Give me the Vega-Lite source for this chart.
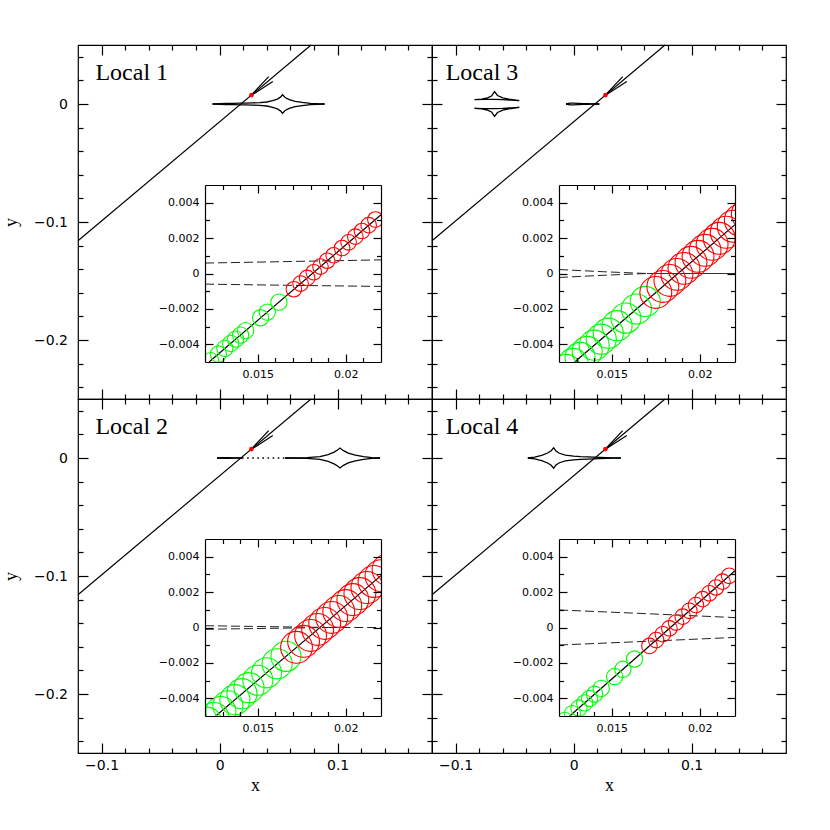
{
"$schema": "https://vega.github.io/schema/vega-lite/v6.json",
"padding": {"left": 1, "top": 42, "right": 5, "bottom": 5},
"background": "white",
"config": {
 "view": {"stroke": "black", "strokeWidth": 1.2},
 "axis": {"grid": false, "domain": false, "tickColor": "black", "tickWidth": 1.2, "labelFont": "DejaVu Sans", "labelColor": "black", "titleFont": "Liberation Serif", "titleColor": "black", "titleFontWeight": "normal", "labelFlush": false, "minExtent": 0, "format": "~g", "domainColor": "black", "domainWidth": 1.2}
},
"datasets": {
 "anchor": [{"x": 0.017, "y": 0}],
 "traj": [{"x": -0.12, "y": -0.1159}, {"x": 0.0775, "y": 0.05}],
 "dot": [{"x": 0.027, "y": 0.0076}],
 "arrow": [{"b": "u", "x": 0.026, "y": 0.0067}, {"b": "u", "x": 0.0416, "y": 0.0232}, {"b": "l", "x": 0.026, "y": 0.0067}, {"b": "l", "x": 0.0451, "y": 0.019}],
 "mask": [{"x": 0.0105, "x2": 0.012, "y": -0.0064, "y2": 0.0062}, {"x": 0.022, "x2": 0.0243, "y": -0.0064, "y2": 0.0062}, {"x": 0.0105, "x2": 0.0243, "y": 0.005, "y2": 0.0062}, {"x": 0.0105, "x2": 0.0243, "y": -0.0064, "y2": -0.005}],
 "c1": [
  {"a": "u", "x": -0.006, "y": 0}, {"a": "u", "x": 0.0, "y": 0.0003}, {"a": "u", "x": 0.006, "y": 0.00045}, {"a": "u", "x": 0.012, "y": 0.00059}, {"a": "u", "x": 0.017, "y": 0.00068}, {"a": "u", "x": 0.022, "y": 0.00077}, {"a": "u", "x": 0.028, "y": 0.00095}, {"a": "u", "x": 0.034, "y": 0.0012}, {"a": "u", "x": 0.04, "y": 0.0017}, {"a": "u", "x": 0.045, "y": 0.0028}, {"a": "u", "x": 0.049, "y": 0.0042}, {"a": "u", "x": 0.0515, "y": 0.0058}, {"a": "u", "x": 0.0533, "y": 0.0078}, {"a": "u", "x": 0.0555, "y": 0.0055}, {"a": "u", "x": 0.059, "y": 0.0037}, {"a": "u", "x": 0.064, "y": 0.0023}, {"a": "u", "x": 0.07, "y": 0.0013}, {"a": "u", "x": 0.077, "y": 0.0006}, {"a": "u", "x": 0.083, "y": 0.0002}, {"a": "u", "x": 0.089, "y": 0},
  {"a": "l", "x": -0.006, "y": 0}, {"a": "l", "x": 0.0, "y": -0.0003}, {"a": "l", "x": 0.006, "y": -0.00045}, {"a": "l", "x": 0.012, "y": -0.0006}, {"a": "l", "x": 0.017, "y": -0.00067}, {"a": "l", "x": 0.022, "y": -0.00073}, {"a": "l", "x": 0.028, "y": -0.00095}, {"a": "l", "x": 0.034, "y": -0.0012}, {"a": "l", "x": 0.04, "y": -0.0017}, {"a": "l", "x": 0.045, "y": -0.0028}, {"a": "l", "x": 0.049, "y": -0.0042}, {"a": "l", "x": 0.0515, "y": -0.0058}, {"a": "l", "x": 0.0533, "y": -0.0078}, {"a": "l", "x": 0.0555, "y": -0.0055}, {"a": "l", "x": 0.059, "y": -0.0037}, {"a": "l", "x": 0.064, "y": -0.0023}, {"a": "l", "x": 0.07, "y": -0.0013}, {"a": "l", "x": 0.077, "y": -0.0006}, {"a": "l", "x": 0.083, "y": -0.0002}, {"a": "l", "x": 0.089, "y": 0}
 ],
 "c2": [
  {"a": "u", "x": -0.0022, "y": 0}, {"a": "u", "x": 0.003, "y": 0.0004}, {"a": "u", "x": 0.008, "y": 0.0002}, {"a": "u", "x": 0.012, "y": 0.0001}, {"a": "u", "x": 0.019, "y": 0},
  {"a": "l", "x": -0.0022, "y": 0}, {"a": "l", "x": 0.003, "y": -0.0004}, {"a": "l", "x": 0.008, "y": -0.0002}, {"a": "l", "x": 0.012, "y": -0.0001}, {"a": "l", "x": 0.019, "y": 0},
  {"a": "u2", "x": 0.0556, "y": 0}, {"a": "u2", "x": 0.074, "y": 0.0003}, {"a": "u2", "x": 0.085, "y": 0.0012}, {"a": "u2", "x": 0.092, "y": 0.0028}, {"a": "u2", "x": 0.097, "y": 0.005}, {"a": "u2", "x": 0.1, "y": 0.0068}, {"a": "u2", "x": 0.102, "y": 0.0084}, {"a": "u2", "x": 0.105, "y": 0.0062}, {"a": "u2", "x": 0.109, "y": 0.0042}, {"a": "u2", "x": 0.115, "y": 0.0024}, {"a": "u2", "x": 0.122, "y": 0.0011}, {"a": "u2", "x": 0.129, "y": 0.0004}, {"a": "u2", "x": 0.136, "y": 0},
  {"a": "l2", "x": 0.0556, "y": 0}, {"a": "l2", "x": 0.074, "y": -0.0003}, {"a": "l2", "x": 0.085, "y": -0.0012}, {"a": "l2", "x": 0.092, "y": -0.0028}, {"a": "l2", "x": 0.097, "y": -0.005}, {"a": "l2", "x": 0.1, "y": -0.0068}, {"a": "l2", "x": 0.102, "y": -0.0084}, {"a": "l2", "x": 0.105, "y": -0.0062}, {"a": "l2", "x": 0.109, "y": -0.0042}, {"a": "l2", "x": 0.115, "y": -0.0024}, {"a": "l2", "x": 0.122, "y": -0.0011}, {"a": "l2", "x": 0.129, "y": -0.0004}, {"a": "l2", "x": 0.136, "y": 0}
 ],
 "c2d": [{"x": 0.019, "y": 0}, {"x": 0.022, "y": 0}, {"x": 0.0556, "y": 0}],
 "c3": [
  {"a": "u", "i": 0, "x": -0.0064, "y": 0}, {"a": "u", "i": 1, "x": -0.003, "y": 0.0007}, {"a": "u", "i": 2, "x": 0.0, "y": 0.0008}, {"a": "u", "i": 3, "x": 0.004, "y": 0.0006}, {"a": "u", "i": 4, "x": 0.008, "y": 0.0004}, {"a": "u", "i": 5, "x": 0.012, "y": 0.000225}, {"a": "u", "i": 6, "x": 0.0145, "y": 0.0001}, {"a": "u", "i": 7, "x": 0.017, "y": 0}, {"a": "u", "i": 8, "x": 0.0218, "y": 0},
  {"a": "l", "i": 0, "x": -0.0064, "y": 0}, {"a": "l", "i": 1, "x": -0.003, "y": -0.0007}, {"a": "l", "i": 2, "x": 0.0, "y": -0.0008}, {"a": "l", "i": 3, "x": 0.004, "y": -0.0006}, {"a": "l", "i": 4, "x": 0.008, "y": -0.0004}, {"a": "l", "i": 5, "x": 0.012, "y": -0.000225}, {"a": "l", "i": 6, "x": 0.0145, "y": -0.0001}, {"a": "l", "i": 7, "x": 0.017, "y": 0}, {"a": "l", "i": 8, "x": 0.0218, "y": 0},
  {"a": "pu", "i": 0, "x": -0.084, "y": 0.0037}, {"a": "pu", "i": 1, "x": -0.078, "y": 0.0042}, {"a": "pu", "i": 2, "x": -0.073, "y": 0.0052}, {"a": "pu", "i": 3, "x": -0.0695, "y": 0.0068}, {"a": "pu", "i": 4, "x": -0.067, "y": 0.0105}, {"a": "pu", "i": 5, "x": -0.0645, "y": 0.0072}, {"a": "pu", "i": 6, "x": -0.06, "y": 0.0052}, {"a": "pu", "i": 7, "x": -0.053, "y": 0.0038}, {"a": "pu", "i": 8, "x": -0.046, "y": 0.0028}, {"a": "pu", "i": 9, "x": -0.053, "y": 0.0032}, {"a": "pu", "i": 10, "x": -0.06, "y": 0.0037}, {"a": "pu", "i": 11, "x": -0.067, "y": 0.004}, {"a": "pu", "i": 12, "x": -0.075, "y": 0.004}, {"a": "pu", "i": 13, "x": -0.084, "y": 0.0037},
  {"a": "pl", "i": 0, "x": -0.084, "y": -0.0037}, {"a": "pl", "i": 1, "x": -0.078, "y": -0.0042}, {"a": "pl", "i": 2, "x": -0.073, "y": -0.0052}, {"a": "pl", "i": 3, "x": -0.0695, "y": -0.0068}, {"a": "pl", "i": 4, "x": -0.067, "y": -0.0105}, {"a": "pl", "i": 5, "x": -0.0645, "y": -0.0072}, {"a": "pl", "i": 6, "x": -0.06, "y": -0.0052}, {"a": "pl", "i": 7, "x": -0.053, "y": -0.0038}, {"a": "pl", "i": 8, "x": -0.046, "y": -0.0028}, {"a": "pl", "i": 9, "x": -0.053, "y": -0.0032}, {"a": "pl", "i": 10, "x": -0.06, "y": -0.0037}, {"a": "pl", "i": 11, "x": -0.067, "y": -0.004}, {"a": "pl", "i": 12, "x": -0.075, "y": -0.004}, {"a": "pl", "i": 13, "x": -0.084, "y": -0.0037}
 ],
 "c3s": [{"x": 0.017, "y": 0}, {"x": 0.0222, "y": 0}],
 "c4": [
  {"a": "u", "x": -0.0388, "y": 0}, {"a": "u", "x": -0.033, "y": 0.0008}, {"a": "u", "x": -0.027, "y": 0.0022}, {"a": "u", "x": -0.022, "y": 0.0042}, {"a": "u", "x": -0.019, "y": 0.0062}, {"a": "u", "x": -0.0169, "y": 0.0087}, {"a": "u", "x": -0.015, "y": 0.006}, {"a": "u", "x": -0.012, "y": 0.004}, {"a": "u", "x": -0.007, "y": 0.0025}, {"a": "u", "x": 0.0, "y": 0.0016}, {"a": "u", "x": 0.006, "y": 0.0012}, {"a": "u", "x": 0.012, "y": 0.00099}, {"a": "u", "x": 0.017, "y": 0.00078}, {"a": "u", "x": 0.022, "y": 0.00056}, {"a": "u", "x": 0.028, "y": 0.0003}, {"a": "u", "x": 0.034, "y": 0.00012}, {"a": "u", "x": 0.04, "y": 0},
  {"a": "l", "x": -0.0388, "y": 0}, {"a": "l", "x": -0.033, "y": -0.0008}, {"a": "l", "x": -0.027, "y": -0.0022}, {"a": "l", "x": -0.022, "y": -0.0042}, {"a": "l", "x": -0.019, "y": -0.0062}, {"a": "l", "x": -0.0169, "y": -0.0087}, {"a": "l", "x": -0.015, "y": -0.006}, {"a": "l", "x": -0.012, "y": -0.004}, {"a": "l", "x": -0.007, "y": -0.0025}, {"a": "l", "x": 0.0, "y": -0.0016}, {"a": "l", "x": 0.006, "y": -0.0012}, {"a": "l", "x": 0.012, "y": -0.00099}, {"a": "l", "x": 0.017, "y": -0.00078}, {"a": "l", "x": 0.022, "y": -0.00056}, {"a": "l", "x": 0.028, "y": -0.0003}, {"a": "l", "x": 0.034, "y": -0.00012}, {"a": "l", "x": 0.04, "y": 0}
 ],
 "t1": [{"x": 0.01223, "y": -0.005}, {"x": 0.022, "y": 0.00332}],
 "t2": [{"x": 0.01261, "y": -0.005}, {"x": 0.022, "y": 0.00293}],
 "t3": [{"x": 0.01289, "y": -0.005}, {"x": 0.022, "y": 0.00276}],
 "t4": [{"x": 0.01261, "y": -0.005}, {"x": 0.022, "y": 0.00321}],
 "p1": [
  {"c": "g", "r": 0.00046, "x": 0.01232, "y": -0.00492}, {"c": "g", "r": 0.00046, "x": 0.01276, "y": -0.00455}, {"c": "g", "r": 0.00046, "x": 0.01313, "y": -0.00423}, {"c": "g", "r": 0.00046, "x": 0.01346, "y": -0.00395}, {"c": "g", "r": 0.00046, "x": 0.01374, "y": -0.00371}, {"c": "g", "r": 0.00046, "x": 0.01402, "y": -0.00348}, {"c": "g", "r": 0.00046, "x": 0.01431, "y": -0.00323}, {"c": "g", "r": 0.00046, "x": 0.01516, "y": -0.0025}, {"c": "g", "r": 0.00046, "x": 0.01554, "y": -0.00218}, {"c": "g", "r": 0.00046, "x": 0.0162, "y": -0.00162},
  {"c": "r", "r": 0.00044, "x": 0.01705, "y": -0.00089}, {"c": "r", "r": 0.00044, "x": 0.01743, "y": -0.00057}, {"c": "r", "r": 0.00044, "x": 0.0178, "y": -0.00025}, {"c": "r", "r": 0.00044, "x": 0.01818, "y": 0.00007}, {"c": "r", "r": 0.00044, "x": 0.01856, "y": 0.00039}, {"c": "r", "r": 0.00044, "x": 0.01894, "y": 0.00072}, {"c": "r", "r": 0.00044, "x": 0.01931, "y": 0.00103}, {"c": "r", "r": 0.00044, "x": 0.01979, "y": 0.00144}, {"c": "r", "r": 0.00044, "x": 0.02016, "y": 0.00176}, {"c": "r", "r": 0.00044, "x": 0.02054, "y": 0.00208}, {"c": "r", "r": 0.00044, "x": 0.02092, "y": 0.0024}, {"c": "r", "r": 0.00044, "x": 0.0213, "y": 0.00273}, {"c": "r", "r": 0.00044, "x": 0.02168, "y": 0.00305}
 ],
 "p2": [
  {"c": "g", "r": 0.00085, "x": 0.0121, "y": -0.00535}, {"c": "g", "r": 0.00085, "x": 0.0125, "y": -0.00509}, {"c": "g", "r": 0.00085, "x": 0.0129, "y": -0.00475}, {"c": "g", "r": 0.00085, "x": 0.0133, "y": -0.00442}, {"c": "g", "r": 0.00085, "x": 0.0137, "y": -0.00408}, {"c": "g", "r": 0.00085, "x": 0.0141, "y": -0.00374}, {"c": "g", "r": 0.00085, "x": 0.0145, "y": -0.0034}, {"c": "g", "r": 0.00085, "x": 0.015, "y": -0.00298}, {"c": "g", "r": 0.00085, "x": 0.0155, "y": -0.00256}, {"c": "g", "r": 0.00085, "x": 0.0161, "y": -0.00205}, {"c": "g", "r": 0.00085, "x": 0.0166, "y": -0.00163},
  {"c": "r", "r": 0.0009, "x": 0.0172, "y": -0.00112}, {"c": "r", "r": 0.0009, "x": 0.0176, "y": -0.00078}, {"c": "r", "r": 0.0009, "x": 0.018, "y": -0.00045}, {"c": "r", "r": 0.0009, "x": 0.0184, "y": -0.00011}, {"c": "r", "r": 0.0009, "x": 0.0188, "y": 0.00023}, {"c": "r", "r": 0.0009, "x": 0.0192, "y": 0.00057}, {"c": "r", "r": 0.0009, "x": 0.0196, "y": 0.00091}, {"c": "r", "r": 0.0009, "x": 0.02, "y": 0.00124}, {"c": "r", "r": 0.0009, "x": 0.0204, "y": 0.00158}, {"c": "r", "r": 0.0009, "x": 0.0208, "y": 0.00192}, {"c": "r", "r": 0.0009, "x": 0.0212, "y": 0.00226}, {"c": "r", "r": 0.0009, "x": 0.0216, "y": 0.0026}, {"c": "r", "r": 0.0009, "x": 0.022, "y": 0.00293}, {"c": "r", "r": 0.0009, "x": 0.0224, "y": 0.00327}
 ],
 "p3": [
  {"c": "g", "r": 0.00085, "x": 0.0124, "y": -0.00542}, {"c": "g", "r": 0.00085, "x": 0.0128, "y": -0.00508}, {"c": "g", "r": 0.00085, "x": 0.0132, "y": -0.00474}, {"c": "g", "r": 0.00085, "x": 0.0136, "y": -0.0044}, {"c": "g", "r": 0.00085, "x": 0.014, "y": -0.00405}, {"c": "g", "r": 0.00085, "x": 0.0144, "y": -0.00371}, {"c": "g", "r": 0.00085, "x": 0.0148, "y": -0.00337}, {"c": "g", "r": 0.00085, "x": 0.0153, "y": -0.00295}, {"c": "g", "r": 0.00085, "x": 0.0158, "y": -0.00252}, {"c": "g", "r": 0.00085, "x": 0.0164, "y": -0.00201}, {"c": "g", "r": 0.00085, "x": 0.0169, "y": -0.00158},
  {"c": "r", "r": 0.0009, "x": 0.0175, "y": -0.00107}, {"c": "r", "r": 0.0009, "x": 0.0179, "y": -0.00073}, {"c": "r", "r": 0.0009, "x": 0.0183, "y": -0.00039}, {"c": "r", "r": 0.0009, "x": 0.0187, "y": -0.00005}, {"c": "r", "r": 0.0009, "x": 0.0191, "y": 0.00029}, {"c": "r", "r": 0.0009, "x": 0.0195, "y": 0.00063}, {"c": "r", "r": 0.0009, "x": 0.0199, "y": 0.00097}, {"c": "r", "r": 0.0009, "x": 0.0203, "y": 0.00131}, {"c": "r", "r": 0.0009, "x": 0.0207, "y": 0.00165}, {"c": "r", "r": 0.0009, "x": 0.0211, "y": 0.00199}, {"c": "r", "r": 0.0009, "x": 0.0215, "y": 0.00233}, {"c": "r", "r": 0.0009, "x": 0.0219, "y": 0.00267}, {"c": "r", "r": 0.0009, "x": 0.0223, "y": 0.00301}, {"c": "r", "r": 0.0009, "x": 0.0227, "y": 0.00336}
 ],
 "p4": [
  {"c": "g", "r": 0.00046, "x": 0.01232, "y": -0.00525}, {"c": "g", "r": 0.00046, "x": 0.01276, "y": -0.00487}, {"c": "g", "r": 0.00046, "x": 0.01313, "y": -0.00455}, {"c": "g", "r": 0.00046, "x": 0.01346, "y": -0.00426}, {"c": "g", "r": 0.00046, "x": 0.01374, "y": -0.00401}, {"c": "g", "r": 0.00046, "x": 0.01402, "y": -0.00377}, {"c": "g", "r": 0.00046, "x": 0.0144, "y": -0.00344}, {"c": "g", "r": 0.00046, "x": 0.01516, "y": -0.00277}, {"c": "g", "r": 0.00046, "x": 0.01563, "y": -0.00236}, {"c": "g", "r": 0.00046, "x": 0.01629, "y": -0.00178},
  {"c": "r", "r": 0.00044, "x": 0.01714, "y": -0.00104}, {"c": "r", "r": 0.00044, "x": 0.01752, "y": -0.00071}, {"c": "r", "r": 0.00044, "x": 0.0179, "y": -0.00038}, {"c": "r", "r": 0.00044, "x": 0.01827, "y": -0.00005}, {"c": "r", "r": 0.00044, "x": 0.01865, "y": 0.00028}, {"c": "r", "r": 0.00044, "x": 0.01903, "y": 0.00061}, {"c": "r", "r": 0.00044, "x": 0.01941, "y": 0.00094}, {"c": "r", "r": 0.00044, "x": 0.01978, "y": 0.00127}, {"c": "r", "r": 0.00044, "x": 0.02016, "y": 0.0016}, {"c": "r", "r": 0.00044, "x": 0.02054, "y": 0.00193}, {"c": "r", "r": 0.00044, "x": 0.02092, "y": 0.00226}, {"c": "r", "r": 0.00044, "x": 0.02129, "y": 0.00259}, {"c": "r", "r": 0.00044, "x": 0.02167, "y": 0.00292}
 ]
},
"columns": 2,
"spacing": 0,
"bounds": "flush",
"concat": [
 {"width": 354, "height": 354,
  "resolve": {"scale": {"x": "independent", "y": "independent"}, "axis": {"x": "independent", "y": "independent"}},
  "layer": [
   {"data": {"name": "traj"}, "mark": {"type": "line", "color": "black", "strokeWidth": 1.2}, "encoding": {"x": {"field": "x", "type": "quantitative", "scale": {"domain": [-0.12, 0.18], "nice": false, "zero": false}, "axis": null}, "y": {"field": "y", "type": "quantitative", "scale": {"domain": [-0.25, 0.05], "nice": false, "zero": false}, "axis": null}}},
   {"data": {"name": "c1"}, "mark": {"type": "line", "color": "black", "strokeWidth": 1.3}, "encoding": {"x": {"field": "x", "type": "quantitative", "scale": {"domain": [-0.12, 0.18], "nice": false, "zero": false}, "axis": null}, "y": {"field": "y", "type": "quantitative", "scale": {"domain": [-0.25, 0.05], "nice": false, "zero": false}, "axis": null}, "detail": {"field": "a"}}},
   {"data": {"name": "arrow"}, "mark": {"type": "line", "color": "black", "strokeWidth": 1.2}, "encoding": {"x": {"field": "x", "type": "quantitative", "scale": {"domain": [-0.12, 0.18], "nice": false, "zero": false}, "axis": null}, "y": {"field": "y", "type": "quantitative", "scale": {"domain": [-0.25, 0.05], "nice": false, "zero": false}, "axis": null}, "detail": {"field": "b"}}},
   {"data": {"name": "dot"}, "mark": {"type": "circle", "color": "#ff0000", "size": 22, "opacity": 1}, "encoding": {"x": {"field": "x", "type": "quantitative", "scale": {"domain": [-0.12, 0.18], "nice": false, "zero": false}, "axis": null}, "y": {"field": "y", "type": "quantitative", "scale": {"domain": [-0.25, 0.05], "nice": false, "zero": false}, "axis": null}}},
   {"data": {"values": [{"x": -0.1052, "y": 0.0201, "t": "Local 1"}]}, "mark": {"type": "text", "align": "left", "baseline": "alphabetic", "font": "Liberation Serif", "fontSize": 24, "color": "black"}, "encoding": {"x": {"field": "x", "type": "quantitative", "scale": {"domain": [-0.12, 0.18], "nice": false, "zero": false}, "axis": null}, "y": {"field": "y", "type": "quantitative", "scale": {"domain": [-0.25, 0.05], "nice": false, "zero": false}, "axis": null}, "text": {"field": "t"}}},
   {"data": {"name": "anchor"}, "mark": {"type": "point", "opacity": 0}, "encoding": {"x": {"field": "x", "type": "quantitative", "scale": {"domain": [-0.12, 0.18], "nice": false, "zero": false}, "axis": {"orient": "bottom", "values": [-0.1, 0, 0.1], "tickSize": -10, "labels": false, "title": null, "maxExtent": 0}}, "y": {"field": "y", "type": "quantitative", "scale": {"domain": [-0.25, 0.05], "nice": false, "zero": false}, "axis": {"orient": "left", "values": [-0.2, -0.1, 0], "tickSize": -10, "labels": true, "labelFontSize": 14, "labelPadding": 20.5, "title": "y", "titleFontSize": 18, "titlePadding": 13}}}},
   {"data": {"name": "anchor"}, "mark": {"type": "point", "opacity": 0}, "encoding": {"x": {"field": "x", "type": "quantitative", "scale": {"domain": [-0.12, 0.18], "nice": false, "zero": false}, "axis": {"orient": "bottom", "values": [-0.08, -0.06, -0.04, -0.02, 0.02, 0.04, 0.06, 0.08, 0.12, 0.14, 0.16], "tickSize": -5, "labels": false, "title": null, "maxExtent": 0}}, "y": {"field": "y", "type": "quantitative", "scale": {"domain": [-0.25, 0.05], "nice": false, "zero": false}, "axis": {"orient": "left", "values": [-0.24, -0.22, -0.18, -0.16, -0.14, -0.12, -0.08, -0.06, -0.04, -0.02, 0.02, 0.04], "tickSize": -5, "labels": false, "title": null, "maxExtent": 0}}}},
   {"data": {"name": "anchor"}, "mark": {"type": "point", "opacity": 0}, "encoding": {"x": {"field": "x", "type": "quantitative", "scale": {"domain": [-0.12, 0.18], "nice": false, "zero": false}, "axis": {"orient": "top", "values": [-0.1, 0, 0.1], "tickSize": -10, "labels": false, "title": null, "maxExtent": 0}}, "y": {"field": "y", "type": "quantitative", "scale": {"domain": [-0.25, 0.05], "nice": false, "zero": false}, "axis": {"orient": "right", "values": [-0.2, -0.1, 0], "tickSize": -10, "labels": false, "title": null, "maxExtent": 0}}}},
   {"data": {"name": "anchor"}, "mark": {"type": "point", "opacity": 0}, "encoding": {"x": {"field": "x", "type": "quantitative", "scale": {"domain": [-0.12, 0.18], "nice": false, "zero": false}, "axis": {"orient": "top", "values": [-0.08, -0.06, -0.04, -0.02, 0.02, 0.04, 0.06, 0.08, 0.12, 0.14, 0.16], "tickSize": -5, "labels": false, "title": null, "maxExtent": 0}}, "y": {"field": "y", "type": "quantitative", "scale": {"domain": [-0.25, 0.05], "nice": false, "zero": false}, "axis": {"orient": "right", "values": [-0.24, -0.22, -0.18, -0.16, -0.14, -0.12, -0.08, -0.06, -0.04, -0.02, 0.02, 0.04], "tickSize": -5, "labels": false, "title": null, "maxExtent": 0}}}},
   {"data": {"name": "c1"}, "transform": [{"filter": "datum.x >= 0.0119 && datum.x <= 0.0221"}], "mark": {"type": "line", "color": "#222222", "strokeWidth": 1, "strokeDash": [9, 4]}, "encoding": {"x": {"field": "x", "type": "quantitative", "scale": {"domain": [0.012, 0.022], "range": [127, 303], "nice": false, "zero": false}, "axis": null}, "y": {"field": "y", "type": "quantitative", "scale": {"domain": [-0.005, 0.005], "range": [317, 140], "nice": false, "zero": false}, "axis": null}, "detail": {"field": "a"}}},
   {"data": {"name": "t1"}, "mark": {"type": "line", "color": "black", "strokeWidth": 1.2}, "encoding": {"x": {"field": "x", "type": "quantitative", "scale": {"domain": [0.012, 0.022], "range": [127, 303], "nice": false, "zero": false}, "axis": null}, "y": {"field": "y", "type": "quantitative", "scale": {"domain": [-0.005, 0.005], "range": [317, 140], "nice": false, "zero": false}, "axis": null}}},
   {"data": {"name": "p1"}, "mark": {"type": "point", "shape": "circle", "filled": false, "strokeWidth": 1.1, "opacity": 1}, "encoding": {"x": {"field": "x", "type": "quantitative", "scale": {"domain": [0.012, 0.022], "range": [127, 303], "nice": false, "zero": false}, "axis": null}, "y": {"field": "y", "type": "quantitative", "scale": {"domain": [-0.005, 0.005], "range": [317, 140], "nice": false, "zero": false}, "axis": null}, "color": {"field": "c", "type": "nominal", "scale": {"domain": ["g", "r"], "range": ["#00ff00", "#ff0000"]}, "legend": null}, "size": {"field": "r", "type": "quantitative", "scale": {"type": "pow", "exponent": 2, "domain": [0, 0.001], "range": [0, 1253]}, "legend": null}}},
   {"data": {"name": "mask"}, "mark": {"type": "rect", "color": "white"}, "encoding": {"x": {"field": "x", "type": "quantitative", "scale": {"domain": [0.012, 0.022], "range": [127, 303], "nice": false, "zero": false}, "axis": null}, "x2": {"field": "x2"}, "y": {"field": "y", "type": "quantitative", "scale": {"domain": [-0.005, 0.005], "range": [317, 140], "nice": false, "zero": false}, "axis": null}, "y2": {"field": "y2"}}},
   {"data": {"name": "anchor"}, "mark": {"type": "point", "opacity": 0}, "encoding": {"x": {"field": "x", "type": "quantitative", "scale": {"domain": [0.012, 0.022], "range": [127, 303], "nice": false, "zero": false}, "axis": {"orient": "bottom", "offset": -37, "values": [0.015, 0.02], "tickSize": -8, "labels": true, "labelFontSize": 11, "labelPadding": 14, "domain": true, "title": null, "zindex": 1}}, "y": {"field": "y", "type": "quantitative", "scale": {"domain": [-0.005, 0.005], "range": [317, 140], "nice": false, "zero": false}, "axis": {"orient": "left", "offset": -127, "values": [-0.004, -0.002, 0, 0.002, 0.004], "tickSize": -8, "labels": true, "labelFontSize": 11, "labelPadding": 14, "domain": true, "title": null, "zindex": 1}}}},
   {"data": {"name": "anchor"}, "mark": {"type": "point", "opacity": 0}, "encoding": {"x": {"field": "x", "type": "quantitative", "scale": {"domain": [0.012, 0.022], "range": [127, 303], "nice": false, "zero": false}, "axis": {"orient": "bottom", "offset": -37, "values": [0.013, 0.014, 0.016, 0.017, 0.018, 0.019, 0.021], "tickSize": -4.5, "labels": false, "title": null, "zindex": 1, "maxExtent": 0}}, "y": {"field": "y", "type": "quantitative", "scale": {"domain": [-0.005, 0.005], "range": [317, 140], "nice": false, "zero": false}, "axis": {"orient": "left", "offset": -127, "values": [-0.003, -0.001, 0.001, 0.003], "tickSize": -4.5, "labels": false, "title": null, "zindex": 1, "maxExtent": 0}}}},
   {"data": {"name": "anchor"}, "mark": {"type": "point", "opacity": 0}, "encoding": {"x": {"field": "x", "type": "quantitative", "scale": {"domain": [0.012, 0.022], "range": [127, 303], "nice": false, "zero": false}, "axis": {"orient": "top", "offset": -140, "values": [0.015, 0.02], "tickSize": -8, "labels": false, "domain": true, "title": null, "zindex": 1, "maxExtent": 0}}, "y": {"field": "y", "type": "quantitative", "scale": {"domain": [-0.005, 0.005], "range": [317, 140], "nice": false, "zero": false}, "axis": {"orient": "right", "offset": -51, "values": [-0.004, -0.002, 0, 0.002, 0.004], "tickSize": -8, "labels": false, "domain": true, "title": null, "zindex": 1, "maxExtent": 0}}}},
   {"data": {"name": "anchor"}, "mark": {"type": "point", "opacity": 0}, "encoding": {"x": {"field": "x", "type": "quantitative", "scale": {"domain": [0.012, 0.022], "range": [127, 303], "nice": false, "zero": false}, "axis": {"orient": "top", "offset": -140, "values": [0.013, 0.014, 0.016, 0.017, 0.018, 0.019, 0.021], "tickSize": -4.5, "labels": false, "title": null, "zindex": 1, "maxExtent": 0}}, "y": {"field": "y", "type": "quantitative", "scale": {"domain": [-0.005, 0.005], "range": [317, 140], "nice": false, "zero": false}, "axis": {"orient": "right", "offset": -51, "values": [-0.003, -0.001, 0.001, 0.003], "tickSize": -4.5, "labels": false, "title": null, "zindex": 1, "maxExtent": 0}}}}
  ]},
 {"width": 354, "height": 354,
  "resolve": {"scale": {"x": "independent", "y": "independent"}, "axis": {"x": "independent", "y": "independent"}},
  "layer": [
   {"data": {"name": "traj"}, "mark": {"type": "line", "color": "black", "strokeWidth": 1.2}, "encoding": {"x": {"field": "x", "type": "quantitative", "scale": {"domain": [-0.12, 0.18], "nice": false, "zero": false}, "axis": null}, "y": {"field": "y", "type": "quantitative", "scale": {"domain": [-0.25, 0.05], "nice": false, "zero": false}, "axis": null}}},
   {"data": {"name": "c3"}, "mark": {"type": "line", "color": "black", "strokeWidth": 1.3}, "encoding": {"x": {"field": "x", "type": "quantitative", "scale": {"domain": [-0.12, 0.18], "nice": false, "zero": false}, "axis": null}, "y": {"field": "y", "type": "quantitative", "scale": {"domain": [-0.25, 0.05], "nice": false, "zero": false}, "axis": null}, "detail": {"field": "a"}, "order": {"field": "i", "type": "quantitative"}}},
   {"data": {"name": "arrow"}, "mark": {"type": "line", "color": "black", "strokeWidth": 1.2}, "encoding": {"x": {"field": "x", "type": "quantitative", "scale": {"domain": [-0.12, 0.18], "nice": false, "zero": false}, "axis": null}, "y": {"field": "y", "type": "quantitative", "scale": {"domain": [-0.25, 0.05], "nice": false, "zero": false}, "axis": null}, "detail": {"field": "b"}}},
   {"data": {"name": "dot"}, "mark": {"type": "circle", "color": "#ff0000", "size": 22, "opacity": 1}, "encoding": {"x": {"field": "x", "type": "quantitative", "scale": {"domain": [-0.12, 0.18], "nice": false, "zero": false}, "axis": null}, "y": {"field": "y", "type": "quantitative", "scale": {"domain": [-0.25, 0.05], "nice": false, "zero": false}, "axis": null}}},
   {"data": {"values": [{"x": -0.1084, "y": 0.0201, "t": "Local 3"}]}, "mark": {"type": "text", "align": "left", "baseline": "alphabetic", "font": "Liberation Serif", "fontSize": 24, "color": "black"}, "encoding": {"x": {"field": "x", "type": "quantitative", "scale": {"domain": [-0.12, 0.18], "nice": false, "zero": false}, "axis": null}, "y": {"field": "y", "type": "quantitative", "scale": {"domain": [-0.25, 0.05], "nice": false, "zero": false}, "axis": null}, "text": {"field": "t"}}},
   {"data": {"name": "anchor"}, "mark": {"type": "point", "opacity": 0}, "encoding": {"x": {"field": "x", "type": "quantitative", "scale": {"domain": [-0.12, 0.18], "nice": false, "zero": false}, "axis": {"orient": "bottom", "values": [-0.1, 0, 0.1], "tickSize": -10, "labels": false, "title": null, "maxExtent": 0}}, "y": {"field": "y", "type": "quantitative", "scale": {"domain": [-0.25, 0.05], "nice": false, "zero": false}, "axis": {"orient": "left", "values": [-0.2, -0.1, 0], "tickSize": -10, "labels": false, "title": null, "maxExtent": 0}}}},
   {"data": {"name": "anchor"}, "mark": {"type": "point", "opacity": 0}, "encoding": {"x": {"field": "x", "type": "quantitative", "scale": {"domain": [-0.12, 0.18], "nice": false, "zero": false}, "axis": {"orient": "bottom", "values": [-0.08, -0.06, -0.04, -0.02, 0.02, 0.04, 0.06, 0.08, 0.12, 0.14, 0.16], "tickSize": -5, "labels": false, "title": null, "maxExtent": 0}}, "y": {"field": "y", "type": "quantitative", "scale": {"domain": [-0.25, 0.05], "nice": false, "zero": false}, "axis": {"orient": "left", "values": [-0.24, -0.22, -0.18, -0.16, -0.14, -0.12, -0.08, -0.06, -0.04, -0.02, 0.02, 0.04], "tickSize": -5, "labels": false, "title": null, "maxExtent": 0}}}},
   {"data": {"name": "anchor"}, "mark": {"type": "point", "opacity": 0}, "encoding": {"x": {"field": "x", "type": "quantitative", "scale": {"domain": [-0.12, 0.18], "nice": false, "zero": false}, "axis": {"orient": "top", "values": [-0.1, 0, 0.1], "tickSize": -10, "labels": false, "title": null, "maxExtent": 0}}, "y": {"field": "y", "type": "quantitative", "scale": {"domain": [-0.25, 0.05], "nice": false, "zero": false}, "axis": {"orient": "right", "values": [-0.2, -0.1, 0], "tickSize": -10, "labels": false, "title": null, "maxExtent": 0}}}},
   {"data": {"name": "anchor"}, "mark": {"type": "point", "opacity": 0}, "encoding": {"x": {"field": "x", "type": "quantitative", "scale": {"domain": [-0.12, 0.18], "nice": false, "zero": false}, "axis": {"orient": "top", "values": [-0.08, -0.06, -0.04, -0.02, 0.02, 0.04, 0.06, 0.08, 0.12, 0.14, 0.16], "tickSize": -5, "labels": false, "title": null, "maxExtent": 0}}, "y": {"field": "y", "type": "quantitative", "scale": {"domain": [-0.25, 0.05], "nice": false, "zero": false}, "axis": {"orient": "right", "values": [-0.24, -0.22, -0.18, -0.16, -0.14, -0.12, -0.08, -0.06, -0.04, -0.02, 0.02, 0.04], "tickSize": -5, "labels": false, "title": null, "maxExtent": 0}}}},
   {"data": {"name": "c3"}, "transform": [{"filter": "(datum.a == 'u' || datum.a == 'l') && datum.x >= 0.0119 && datum.x <= 0.0171"}], "mark": {"type": "line", "color": "#222222", "strokeWidth": 1, "strokeDash": [9, 4]}, "encoding": {"x": {"field": "x", "type": "quantitative", "scale": {"domain": [0.012, 0.022], "range": [127, 303], "nice": false, "zero": false}, "axis": null}, "y": {"field": "y", "type": "quantitative", "scale": {"domain": [-0.005, 0.005], "range": [317, 140], "nice": false, "zero": false}, "axis": null}, "detail": {"field": "a"}, "order": {"field": "i", "type": "quantitative"}}},
   {"data": {"name": "c3s"}, "mark": {"type": "line", "color": "#333333", "strokeWidth": 1.2}, "encoding": {"x": {"field": "x", "type": "quantitative", "scale": {"domain": [0.012, 0.022], "range": [127, 303], "nice": false, "zero": false}, "axis": null}, "y": {"field": "y", "type": "quantitative", "scale": {"domain": [-0.005, 0.005], "range": [317, 140], "nice": false, "zero": false}, "axis": null}}},
   {"data": {"name": "t3"}, "mark": {"type": "line", "color": "black", "strokeWidth": 1.2}, "encoding": {"x": {"field": "x", "type": "quantitative", "scale": {"domain": [0.012, 0.022], "range": [127, 303], "nice": false, "zero": false}, "axis": null}, "y": {"field": "y", "type": "quantitative", "scale": {"domain": [-0.005, 0.005], "range": [317, 140], "nice": false, "zero": false}, "axis": null}}},
   {"data": {"name": "p3"}, "mark": {"type": "point", "shape": "circle", "filled": false, "strokeWidth": 1.1, "opacity": 1}, "encoding": {"x": {"field": "x", "type": "quantitative", "scale": {"domain": [0.012, 0.022], "range": [127, 303], "nice": false, "zero": false}, "axis": null}, "y": {"field": "y", "type": "quantitative", "scale": {"domain": [-0.005, 0.005], "range": [317, 140], "nice": false, "zero": false}, "axis": null}, "color": {"field": "c", "type": "nominal", "scale": {"domain": ["g", "r"], "range": ["#00ff00", "#ff0000"]}, "legend": null}, "size": {"field": "r", "type": "quantitative", "scale": {"type": "pow", "exponent": 2, "domain": [0, 0.001], "range": [0, 1253]}, "legend": null}}},
   {"data": {"name": "mask"}, "mark": {"type": "rect", "color": "white"}, "encoding": {"x": {"field": "x", "type": "quantitative", "scale": {"domain": [0.012, 0.022], "range": [127, 303], "nice": false, "zero": false}, "axis": null}, "x2": {"field": "x2"}, "y": {"field": "y", "type": "quantitative", "scale": {"domain": [-0.005, 0.005], "range": [317, 140], "nice": false, "zero": false}, "axis": null}, "y2": {"field": "y2"}}},
   {"data": {"name": "anchor"}, "mark": {"type": "point", "opacity": 0}, "encoding": {"x": {"field": "x", "type": "quantitative", "scale": {"domain": [0.012, 0.022], "range": [127, 303], "nice": false, "zero": false}, "axis": {"orient": "bottom", "offset": -37, "values": [0.015, 0.02], "tickSize": -8, "labels": true, "labelFontSize": 11, "labelPadding": 14, "domain": true, "title": null, "zindex": 1}}, "y": {"field": "y", "type": "quantitative", "scale": {"domain": [-0.005, 0.005], "range": [317, 140], "nice": false, "zero": false}, "axis": {"orient": "left", "offset": -127, "values": [-0.004, -0.002, 0, 0.002, 0.004], "tickSize": -8, "labels": true, "labelFontSize": 11, "labelPadding": 14, "domain": true, "title": null, "zindex": 1}}}},
   {"data": {"name": "anchor"}, "mark": {"type": "point", "opacity": 0}, "encoding": {"x": {"field": "x", "type": "quantitative", "scale": {"domain": [0.012, 0.022], "range": [127, 303], "nice": false, "zero": false}, "axis": {"orient": "bottom", "offset": -37, "values": [0.013, 0.014, 0.016, 0.017, 0.018, 0.019, 0.021], "tickSize": -4.5, "labels": false, "title": null, "zindex": 1, "maxExtent": 0}}, "y": {"field": "y", "type": "quantitative", "scale": {"domain": [-0.005, 0.005], "range": [317, 140], "nice": false, "zero": false}, "axis": {"orient": "left", "offset": -127, "values": [-0.003, -0.001, 0.001, 0.003], "tickSize": -4.5, "labels": false, "title": null, "zindex": 1, "maxExtent": 0}}}},
   {"data": {"name": "anchor"}, "mark": {"type": "point", "opacity": 0}, "encoding": {"x": {"field": "x", "type": "quantitative", "scale": {"domain": [0.012, 0.022], "range": [127, 303], "nice": false, "zero": false}, "axis": {"orient": "top", "offset": -140, "values": [0.015, 0.02], "tickSize": -8, "labels": false, "domain": true, "title": null, "zindex": 1, "maxExtent": 0}}, "y": {"field": "y", "type": "quantitative", "scale": {"domain": [-0.005, 0.005], "range": [317, 140], "nice": false, "zero": false}, "axis": {"orient": "right", "offset": -51, "values": [-0.004, -0.002, 0, 0.002, 0.004], "tickSize": -8, "labels": false, "domain": true, "title": null, "zindex": 1, "maxExtent": 0}}}},
   {"data": {"name": "anchor"}, "mark": {"type": "point", "opacity": 0}, "encoding": {"x": {"field": "x", "type": "quantitative", "scale": {"domain": [0.012, 0.022], "range": [127, 303], "nice": false, "zero": false}, "axis": {"orient": "top", "offset": -140, "values": [0.013, 0.014, 0.016, 0.017, 0.018, 0.019, 0.021], "tickSize": -4.5, "labels": false, "title": null, "zindex": 1, "maxExtent": 0}}, "y": {"field": "y", "type": "quantitative", "scale": {"domain": [-0.005, 0.005], "range": [317, 140], "nice": false, "zero": false}, "axis": {"orient": "right", "offset": -51, "values": [-0.003, -0.001, 0.001, 0.003], "tickSize": -4.5, "labels": false, "title": null, "zindex": 1, "maxExtent": 0}}}}
  ]},
 {"width": 354, "height": 354,
  "resolve": {"scale": {"x": "independent", "y": "independent"}, "axis": {"x": "independent", "y": "independent"}},
  "layer": [
   {"data": {"name": "traj"}, "mark": {"type": "line", "color": "black", "strokeWidth": 1.2}, "encoding": {"x": {"field": "x", "type": "quantitative", "scale": {"domain": [-0.12, 0.18], "nice": false, "zero": false}, "axis": null}, "y": {"field": "y", "type": "quantitative", "scale": {"domain": [-0.25, 0.05], "nice": false, "zero": false}, "axis": null}}},
   {"data": {"name": "c2"}, "mark": {"type": "line", "color": "black", "strokeWidth": 1.3}, "encoding": {"x": {"field": "x", "type": "quantitative", "scale": {"domain": [-0.12, 0.18], "nice": false, "zero": false}, "axis": null}, "y": {"field": "y", "type": "quantitative", "scale": {"domain": [-0.25, 0.05], "nice": false, "zero": false}, "axis": null}, "detail": {"field": "a"}}},
   {"data": {"name": "c2d"}, "mark": {"type": "line", "color": "black", "strokeWidth": 1.6, "strokeDash": [1.6, 3.5]}, "encoding": {"x": {"field": "x", "type": "quantitative", "scale": {"domain": [-0.12, 0.18], "nice": false, "zero": false}, "axis": null}, "y": {"field": "y", "type": "quantitative", "scale": {"domain": [-0.25, 0.05], "nice": false, "zero": false}, "axis": null}}},
   {"data": {"name": "arrow"}, "mark": {"type": "line", "color": "black", "strokeWidth": 1.2}, "encoding": {"x": {"field": "x", "type": "quantitative", "scale": {"domain": [-0.12, 0.18], "nice": false, "zero": false}, "axis": null}, "y": {"field": "y", "type": "quantitative", "scale": {"domain": [-0.25, 0.05], "nice": false, "zero": false}, "axis": null}, "detail": {"field": "b"}}},
   {"data": {"name": "dot"}, "mark": {"type": "circle", "color": "#ff0000", "size": 22, "opacity": 1}, "encoding": {"x": {"field": "x", "type": "quantitative", "scale": {"domain": [-0.12, 0.18], "nice": false, "zero": false}, "axis": null}, "y": {"field": "y", "type": "quantitative", "scale": {"domain": [-0.25, 0.05], "nice": false, "zero": false}, "axis": null}}},
   {"data": {"values": [{"x": -0.1052, "y": 0.0201, "t": "Local 2"}]}, "mark": {"type": "text", "align": "left", "baseline": "alphabetic", "font": "Liberation Serif", "fontSize": 24, "color": "black"}, "encoding": {"x": {"field": "x", "type": "quantitative", "scale": {"domain": [-0.12, 0.18], "nice": false, "zero": false}, "axis": null}, "y": {"field": "y", "type": "quantitative", "scale": {"domain": [-0.25, 0.05], "nice": false, "zero": false}, "axis": null}, "text": {"field": "t"}}},
   {"data": {"name": "anchor"}, "mark": {"type": "point", "opacity": 0}, "encoding": {"x": {"field": "x", "type": "quantitative", "scale": {"domain": [-0.12, 0.18], "nice": false, "zero": false}, "axis": {"orient": "bottom", "values": [-0.1, 0, 0.1], "tickSize": -10, "labels": true, "labelFontSize": 14, "labelPadding": 15, "title": "x", "titleFontSize": 18, "titlePadding": 4}}, "y": {"field": "y", "type": "quantitative", "scale": {"domain": [-0.25, 0.05], "nice": false, "zero": false}, "axis": {"orient": "left", "values": [-0.2, -0.1, 0], "tickSize": -10, "labels": true, "labelFontSize": 14, "labelPadding": 20.5, "title": "y", "titleFontSize": 18, "titlePadding": 13}}}},
   {"data": {"name": "anchor"}, "mark": {"type": "point", "opacity": 0}, "encoding": {"x": {"field": "x", "type": "quantitative", "scale": {"domain": [-0.12, 0.18], "nice": false, "zero": false}, "axis": {"orient": "bottom", "values": [-0.08, -0.06, -0.04, -0.02, 0.02, 0.04, 0.06, 0.08, 0.12, 0.14, 0.16], "tickSize": -5, "labels": false, "title": null, "maxExtent": 0}}, "y": {"field": "y", "type": "quantitative", "scale": {"domain": [-0.25, 0.05], "nice": false, "zero": false}, "axis": {"orient": "left", "values": [-0.24, -0.22, -0.18, -0.16, -0.14, -0.12, -0.08, -0.06, -0.04, -0.02, 0.02, 0.04], "tickSize": -5, "labels": false, "title": null, "maxExtent": 0}}}},
   {"data": {"name": "anchor"}, "mark": {"type": "point", "opacity": 0}, "encoding": {"x": {"field": "x", "type": "quantitative", "scale": {"domain": [-0.12, 0.18], "nice": false, "zero": false}, "axis": {"orient": "top", "values": [-0.1, 0, 0.1], "tickSize": -10, "labels": false, "title": null, "maxExtent": 0}}, "y": {"field": "y", "type": "quantitative", "scale": {"domain": [-0.25, 0.05], "nice": false, "zero": false}, "axis": {"orient": "right", "values": [-0.2, -0.1, 0], "tickSize": -10, "labels": false, "title": null, "maxExtent": 0}}}},
   {"data": {"name": "anchor"}, "mark": {"type": "point", "opacity": 0}, "encoding": {"x": {"field": "x", "type": "quantitative", "scale": {"domain": [-0.12, 0.18], "nice": false, "zero": false}, "axis": {"orient": "top", "values": [-0.08, -0.06, -0.04, -0.02, 0.02, 0.04, 0.06, 0.08, 0.12, 0.14, 0.16], "tickSize": -5, "labels": false, "title": null, "maxExtent": 0}}, "y": {"field": "y", "type": "quantitative", "scale": {"domain": [-0.25, 0.05], "nice": false, "zero": false}, "axis": {"orient": "right", "values": [-0.24, -0.22, -0.18, -0.16, -0.14, -0.12, -0.08, -0.06, -0.04, -0.02, 0.02, 0.04], "tickSize": -5, "labels": false, "title": null, "maxExtent": 0}}}},
   {"data": {"name": "c2"}, "transform": [{"filter": "datum.x >= 0.0119 && datum.x <= 0.0221"}], "mark": {"type": "line", "color": "#222222", "strokeWidth": 1, "strokeDash": [9, 4]}, "encoding": {"x": {"field": "x", "type": "quantitative", "scale": {"domain": [0.012, 0.022], "range": [127, 303], "nice": false, "zero": false}, "axis": null}, "y": {"field": "y", "type": "quantitative", "scale": {"domain": [-0.005, 0.005], "range": [317, 140], "nice": false, "zero": false}, "axis": null}, "detail": {"field": "a"}}},
   {"data": {"name": "c2d"}, "transform": [{"filter": "datum.x >= 0.0119 && datum.x <= 0.0221"}], "mark": {"type": "line", "color": "#222222", "strokeWidth": 1, "strokeDash": [9, 4]}, "encoding": {"x": {"field": "x", "type": "quantitative", "scale": {"domain": [0.012, 0.022], "range": [127, 303], "nice": false, "zero": false}, "axis": null}, "y": {"field": "y", "type": "quantitative", "scale": {"domain": [-0.005, 0.005], "range": [317, 140], "nice": false, "zero": false}, "axis": null}}},
   {"data": {"name": "t2"}, "mark": {"type": "line", "color": "black", "strokeWidth": 1.2}, "encoding": {"x": {"field": "x", "type": "quantitative", "scale": {"domain": [0.012, 0.022], "range": [127, 303], "nice": false, "zero": false}, "axis": null}, "y": {"field": "y", "type": "quantitative", "scale": {"domain": [-0.005, 0.005], "range": [317, 140], "nice": false, "zero": false}, "axis": null}}},
   {"data": {"name": "p2"}, "mark": {"type": "point", "shape": "circle", "filled": false, "strokeWidth": 1.1, "opacity": 1}, "encoding": {"x": {"field": "x", "type": "quantitative", "scale": {"domain": [0.012, 0.022], "range": [127, 303], "nice": false, "zero": false}, "axis": null}, "y": {"field": "y", "type": "quantitative", "scale": {"domain": [-0.005, 0.005], "range": [317, 140], "nice": false, "zero": false}, "axis": null}, "color": {"field": "c", "type": "nominal", "scale": {"domain": ["g", "r"], "range": ["#00ff00", "#ff0000"]}, "legend": null}, "size": {"field": "r", "type": "quantitative", "scale": {"type": "pow", "exponent": 2, "domain": [0, 0.001], "range": [0, 1253]}, "legend": null}}},
   {"data": {"name": "mask"}, "mark": {"type": "rect", "color": "white"}, "encoding": {"x": {"field": "x", "type": "quantitative", "scale": {"domain": [0.012, 0.022], "range": [127, 303], "nice": false, "zero": false}, "axis": null}, "x2": {"field": "x2"}, "y": {"field": "y", "type": "quantitative", "scale": {"domain": [-0.005, 0.005], "range": [317, 140], "nice": false, "zero": false}, "axis": null}, "y2": {"field": "y2"}}},
   {"data": {"name": "anchor"}, "mark": {"type": "point", "opacity": 0}, "encoding": {"x": {"field": "x", "type": "quantitative", "scale": {"domain": [0.012, 0.022], "range": [127, 303], "nice": false, "zero": false}, "axis": {"orient": "bottom", "offset": -37, "values": [0.015, 0.02], "tickSize": -8, "labels": true, "labelFontSize": 11, "labelPadding": 14, "domain": true, "title": null, "zindex": 1}}, "y": {"field": "y", "type": "quantitative", "scale": {"domain": [-0.005, 0.005], "range": [317, 140], "nice": false, "zero": false}, "axis": {"orient": "left", "offset": -127, "values": [-0.004, -0.002, 0, 0.002, 0.004], "tickSize": -8, "labels": true, "labelFontSize": 11, "labelPadding": 14, "domain": true, "title": null, "zindex": 1}}}},
   {"data": {"name": "anchor"}, "mark": {"type": "point", "opacity": 0}, "encoding": {"x": {"field": "x", "type": "quantitative", "scale": {"domain": [0.012, 0.022], "range": [127, 303], "nice": false, "zero": false}, "axis": {"orient": "bottom", "offset": -37, "values": [0.013, 0.014, 0.016, 0.017, 0.018, 0.019, 0.021], "tickSize": -4.5, "labels": false, "title": null, "zindex": 1, "maxExtent": 0}}, "y": {"field": "y", "type": "quantitative", "scale": {"domain": [-0.005, 0.005], "range": [317, 140], "nice": false, "zero": false}, "axis": {"orient": "left", "offset": -127, "values": [-0.003, -0.001, 0.001, 0.003], "tickSize": -4.5, "labels": false, "title": null, "zindex": 1, "maxExtent": 0}}}},
   {"data": {"name": "anchor"}, "mark": {"type": "point", "opacity": 0}, "encoding": {"x": {"field": "x", "type": "quantitative", "scale": {"domain": [0.012, 0.022], "range": [127, 303], "nice": false, "zero": false}, "axis": {"orient": "top", "offset": -140, "values": [0.015, 0.02], "tickSize": -8, "labels": false, "domain": true, "title": null, "zindex": 1, "maxExtent": 0}}, "y": {"field": "y", "type": "quantitative", "scale": {"domain": [-0.005, 0.005], "range": [317, 140], "nice": false, "zero": false}, "axis": {"orient": "right", "offset": -51, "values": [-0.004, -0.002, 0, 0.002, 0.004], "tickSize": -8, "labels": false, "domain": true, "title": null, "zindex": 1, "maxExtent": 0}}}},
   {"data": {"name": "anchor"}, "mark": {"type": "point", "opacity": 0}, "encoding": {"x": {"field": "x", "type": "quantitative", "scale": {"domain": [0.012, 0.022], "range": [127, 303], "nice": false, "zero": false}, "axis": {"orient": "top", "offset": -140, "values": [0.013, 0.014, 0.016, 0.017, 0.018, 0.019, 0.021], "tickSize": -4.5, "labels": false, "title": null, "zindex": 1, "maxExtent": 0}}, "y": {"field": "y", "type": "quantitative", "scale": {"domain": [-0.005, 0.005], "range": [317, 140], "nice": false, "zero": false}, "axis": {"orient": "right", "offset": -51, "values": [-0.003, -0.001, 0.001, 0.003], "tickSize": -4.5, "labels": false, "title": null, "zindex": 1, "maxExtent": 0}}}}
  ]},
 {"width": 354, "height": 354,
  "resolve": {"scale": {"x": "independent", "y": "independent"}, "axis": {"x": "independent", "y": "independent"}},
  "layer": [
   {"data": {"name": "traj"}, "mark": {"type": "line", "color": "black", "strokeWidth": 1.2}, "encoding": {"x": {"field": "x", "type": "quantitative", "scale": {"domain": [-0.12, 0.18], "nice": false, "zero": false}, "axis": null}, "y": {"field": "y", "type": "quantitative", "scale": {"domain": [-0.25, 0.05], "nice": false, "zero": false}, "axis": null}}},
   {"data": {"name": "c4"}, "mark": {"type": "line", "color": "black", "strokeWidth": 1.3}, "encoding": {"x": {"field": "x", "type": "quantitative", "scale": {"domain": [-0.12, 0.18], "nice": false, "zero": false}, "axis": null}, "y": {"field": "y", "type": "quantitative", "scale": {"domain": [-0.25, 0.05], "nice": false, "zero": false}, "axis": null}, "detail": {"field": "a"}}},
   {"data": {"name": "arrow"}, "mark": {"type": "line", "color": "black", "strokeWidth": 1.2}, "encoding": {"x": {"field": "x", "type": "quantitative", "scale": {"domain": [-0.12, 0.18], "nice": false, "zero": false}, "axis": null}, "y": {"field": "y", "type": "quantitative", "scale": {"domain": [-0.25, 0.05], "nice": false, "zero": false}, "axis": null}, "detail": {"field": "b"}}},
   {"data": {"name": "dot"}, "mark": {"type": "circle", "color": "#ff0000", "size": 22, "opacity": 1}, "encoding": {"x": {"field": "x", "type": "quantitative", "scale": {"domain": [-0.12, 0.18], "nice": false, "zero": false}, "axis": null}, "y": {"field": "y", "type": "quantitative", "scale": {"domain": [-0.25, 0.05], "nice": false, "zero": false}, "axis": null}}},
   {"data": {"values": [{"x": -0.1084, "y": 0.0201, "t": "Local 4"}]}, "mark": {"type": "text", "align": "left", "baseline": "alphabetic", "font": "Liberation Serif", "fontSize": 24, "color": "black"}, "encoding": {"x": {"field": "x", "type": "quantitative", "scale": {"domain": [-0.12, 0.18], "nice": false, "zero": false}, "axis": null}, "y": {"field": "y", "type": "quantitative", "scale": {"domain": [-0.25, 0.05], "nice": false, "zero": false}, "axis": null}, "text": {"field": "t"}}},
   {"data": {"name": "anchor"}, "mark": {"type": "point", "opacity": 0}, "encoding": {"x": {"field": "x", "type": "quantitative", "scale": {"domain": [-0.12, 0.18], "nice": false, "zero": false}, "axis": {"orient": "bottom", "values": [-0.1, 0, 0.1], "tickSize": -10, "labels": true, "labelFontSize": 14, "labelPadding": 15, "title": "x", "titleFontSize": 18, "titlePadding": 4}}, "y": {"field": "y", "type": "quantitative", "scale": {"domain": [-0.25, 0.05], "nice": false, "zero": false}, "axis": {"orient": "left", "values": [-0.2, -0.1, 0], "tickSize": -10, "labels": false, "title": null, "maxExtent": 0}}}},
   {"data": {"name": "anchor"}, "mark": {"type": "point", "opacity": 0}, "encoding": {"x": {"field": "x", "type": "quantitative", "scale": {"domain": [-0.12, 0.18], "nice": false, "zero": false}, "axis": {"orient": "bottom", "values": [-0.08, -0.06, -0.04, -0.02, 0.02, 0.04, 0.06, 0.08, 0.12, 0.14, 0.16], "tickSize": -5, "labels": false, "title": null, "maxExtent": 0}}, "y": {"field": "y", "type": "quantitative", "scale": {"domain": [-0.25, 0.05], "nice": false, "zero": false}, "axis": {"orient": "left", "values": [-0.24, -0.22, -0.18, -0.16, -0.14, -0.12, -0.08, -0.06, -0.04, -0.02, 0.02, 0.04], "tickSize": -5, "labels": false, "title": null, "maxExtent": 0}}}},
   {"data": {"name": "anchor"}, "mark": {"type": "point", "opacity": 0}, "encoding": {"x": {"field": "x", "type": "quantitative", "scale": {"domain": [-0.12, 0.18], "nice": false, "zero": false}, "axis": {"orient": "top", "values": [-0.1, 0, 0.1], "tickSize": -10, "labels": false, "title": null, "maxExtent": 0}}, "y": {"field": "y", "type": "quantitative", "scale": {"domain": [-0.25, 0.05], "nice": false, "zero": false}, "axis": {"orient": "right", "values": [-0.2, -0.1, 0], "tickSize": -10, "labels": false, "title": null, "maxExtent": 0}}}},
   {"data": {"name": "anchor"}, "mark": {"type": "point", "opacity": 0}, "encoding": {"x": {"field": "x", "type": "quantitative", "scale": {"domain": [-0.12, 0.18], "nice": false, "zero": false}, "axis": {"orient": "top", "values": [-0.08, -0.06, -0.04, -0.02, 0.02, 0.04, 0.06, 0.08, 0.12, 0.14, 0.16], "tickSize": -5, "labels": false, "title": null, "maxExtent": 0}}, "y": {"field": "y", "type": "quantitative", "scale": {"domain": [-0.25, 0.05], "nice": false, "zero": false}, "axis": {"orient": "right", "values": [-0.24, -0.22, -0.18, -0.16, -0.14, -0.12, -0.08, -0.06, -0.04, -0.02, 0.02, 0.04], "tickSize": -5, "labels": false, "title": null, "maxExtent": 0}}}},
   {"data": {"name": "c4"}, "transform": [{"filter": "datum.x >= 0.0119 && datum.x <= 0.0221"}], "mark": {"type": "line", "color": "#222222", "strokeWidth": 1, "strokeDash": [9, 4]}, "encoding": {"x": {"field": "x", "type": "quantitative", "scale": {"domain": [0.012, 0.022], "range": [127, 303], "nice": false, "zero": false}, "axis": null}, "y": {"field": "y", "type": "quantitative", "scale": {"domain": [-0.005, 0.005], "range": [317, 140], "nice": false, "zero": false}, "axis": null}, "detail": {"field": "a"}}},
   {"data": {"name": "t4"}, "mark": {"type": "line", "color": "black", "strokeWidth": 1.2}, "encoding": {"x": {"field": "x", "type": "quantitative", "scale": {"domain": [0.012, 0.022], "range": [127, 303], "nice": false, "zero": false}, "axis": null}, "y": {"field": "y", "type": "quantitative", "scale": {"domain": [-0.005, 0.005], "range": [317, 140], "nice": false, "zero": false}, "axis": null}}},
   {"data": {"name": "p4"}, "mark": {"type": "point", "shape": "circle", "filled": false, "strokeWidth": 1.1, "opacity": 1}, "encoding": {"x": {"field": "x", "type": "quantitative", "scale": {"domain": [0.012, 0.022], "range": [127, 303], "nice": false, "zero": false}, "axis": null}, "y": {"field": "y", "type": "quantitative", "scale": {"domain": [-0.005, 0.005], "range": [317, 140], "nice": false, "zero": false}, "axis": null}, "color": {"field": "c", "type": "nominal", "scale": {"domain": ["g", "r"], "range": ["#00ff00", "#ff0000"]}, "legend": null}, "size": {"field": "r", "type": "quantitative", "scale": {"type": "pow", "exponent": 2, "domain": [0, 0.001], "range": [0, 1253]}, "legend": null}}},
   {"data": {"name": "mask"}, "mark": {"type": "rect", "color": "white"}, "encoding": {"x": {"field": "x", "type": "quantitative", "scale": {"domain": [0.012, 0.022], "range": [127, 303], "nice": false, "zero": false}, "axis": null}, "x2": {"field": "x2"}, "y": {"field": "y", "type": "quantitative", "scale": {"domain": [-0.005, 0.005], "range": [317, 140], "nice": false, "zero": false}, "axis": null}, "y2": {"field": "y2"}}},
   {"data": {"name": "anchor"}, "mark": {"type": "point", "opacity": 0}, "encoding": {"x": {"field": "x", "type": "quantitative", "scale": {"domain": [0.012, 0.022], "range": [127, 303], "nice": false, "zero": false}, "axis": {"orient": "bottom", "offset": -37, "values": [0.015, 0.02], "tickSize": -8, "labels": true, "labelFontSize": 11, "labelPadding": 14, "domain": true, "title": null, "zindex": 1}}, "y": {"field": "y", "type": "quantitative", "scale": {"domain": [-0.005, 0.005], "range": [317, 140], "nice": false, "zero": false}, "axis": {"orient": "left", "offset": -127, "values": [-0.004, -0.002, 0, 0.002, 0.004], "tickSize": -8, "labels": true, "labelFontSize": 11, "labelPadding": 14, "domain": true, "title": null, "zindex": 1}}}},
   {"data": {"name": "anchor"}, "mark": {"type": "point", "opacity": 0}, "encoding": {"x": {"field": "x", "type": "quantitative", "scale": {"domain": [0.012, 0.022], "range": [127, 303], "nice": false, "zero": false}, "axis": {"orient": "bottom", "offset": -37, "values": [0.013, 0.014, 0.016, 0.017, 0.018, 0.019, 0.021], "tickSize": -4.5, "labels": false, "title": null, "zindex": 1, "maxExtent": 0}}, "y": {"field": "y", "type": "quantitative", "scale": {"domain": [-0.005, 0.005], "range": [317, 140], "nice": false, "zero": false}, "axis": {"orient": "left", "offset": -127, "values": [-0.003, -0.001, 0.001, 0.003], "tickSize": -4.5, "labels": false, "title": null, "zindex": 1, "maxExtent": 0}}}},
   {"data": {"name": "anchor"}, "mark": {"type": "point", "opacity": 0}, "encoding": {"x": {"field": "x", "type": "quantitative", "scale": {"domain": [0.012, 0.022], "range": [127, 303], "nice": false, "zero": false}, "axis": {"orient": "top", "offset": -140, "values": [0.015, 0.02], "tickSize": -8, "labels": false, "domain": true, "title": null, "zindex": 1, "maxExtent": 0}}, "y": {"field": "y", "type": "quantitative", "scale": {"domain": [-0.005, 0.005], "range": [317, 140], "nice": false, "zero": false}, "axis": {"orient": "right", "offset": -51, "values": [-0.004, -0.002, 0, 0.002, 0.004], "tickSize": -8, "labels": false, "domain": true, "title": null, "zindex": 1, "maxExtent": 0}}}},
   {"data": {"name": "anchor"}, "mark": {"type": "point", "opacity": 0}, "encoding": {"x": {"field": "x", "type": "quantitative", "scale": {"domain": [0.012, 0.022], "range": [127, 303], "nice": false, "zero": false}, "axis": {"orient": "top", "offset": -140, "values": [0.013, 0.014, 0.016, 0.017, 0.018, 0.019, 0.021], "tickSize": -4.5, "labels": false, "title": null, "zindex": 1, "maxExtent": 0}}, "y": {"field": "y", "type": "quantitative", "scale": {"domain": [-0.005, 0.005], "range": [317, 140], "nice": false, "zero": false}, "axis": {"orient": "right", "offset": -51, "values": [-0.003, -0.001, 0.001, 0.003], "tickSize": -4.5, "labels": false, "title": null, "zindex": 1, "maxExtent": 0}}}}
  ]}
]
}
